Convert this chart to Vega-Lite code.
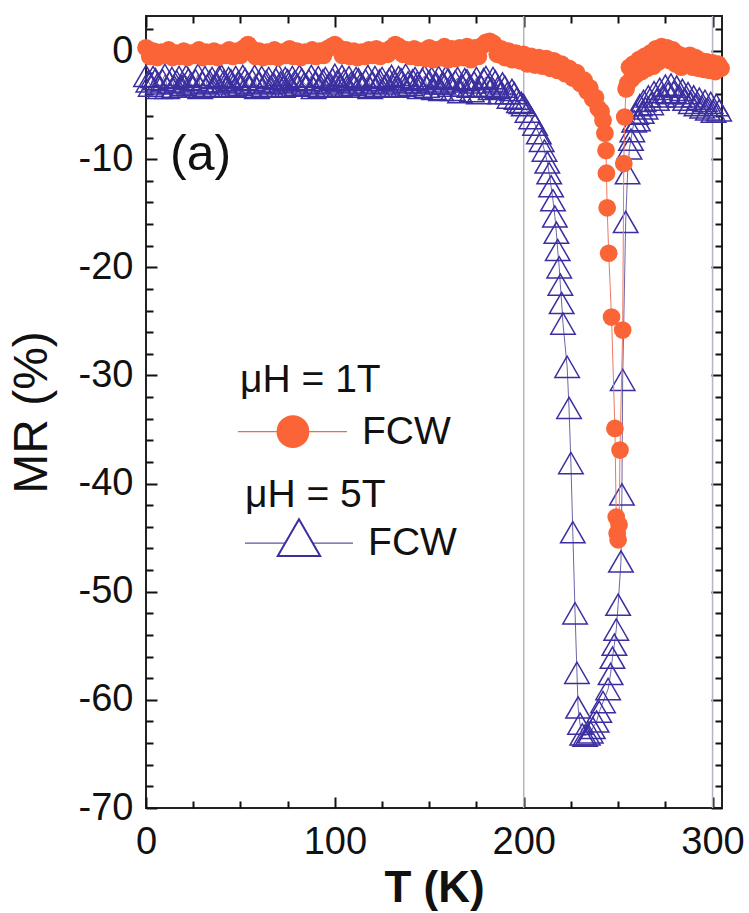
{
"$schema": "https://vega.github.io/schema/vega-lite/v6.json",
"width": 576, "height": 792,
"autosize": "none",
"padding": {"left": 146, "top": 16, "right": 27, "bottom": 105},
"background": "white",
"config": {
  "font": "Liberation Sans",
  "view": {"stroke": "#222", "strokeWidth": 2},
  "axis": {"grid": false, "domain": false, "labelFlush": false, "labelOverlap": false, "tickColor": "#111", "tickWidth": 2, "labelColor": "#111", "titleColor": "#111", "labelFont": "Liberation Sans", "titleFont": "Liberation Sans"}
},
"datasets": {
  "red": [
{"T":0,"MR":0.3},{"T":2,"MR":-0.5},{"T":4,"MR":0.0},{"T":6,"MR":-0.6},{"T":8,"MR":-0.1},{"T":10,"MR":-0.4},{"T":12,"MR":0.1},{"T":14,"MR":-0.6},{"T":16,"MR":-0.2},{"T":18,"MR":-0.5},{"T":20,"MR":0.0},{"T":22,"MR":-0.6},{"T":24,"MR":-0.2},{"T":26,"MR":-0.4},{"T":28,"MR":0.1},{"T":30,"MR":-0.6},{"T":32,"MR":-0.1},{"T":34,"MR":-0.5},{"T":36,"MR":0.0},{"T":38,"MR":-0.6},{"T":40,"MR":-0.2},{"T":42,"MR":-0.4},{"T":44,"MR":0.1},{"T":46,"MR":-0.5},{"T":48,"MR":0.0},{"T":50,"MR":-0.4},{"T":52,"MR":0.3},{"T":54,"MR":0.6},{"T":56,"MR":0.2},{"T":58,"MR":-0.5},{"T":60,"MR":0.0},{"T":62,"MR":-0.6},{"T":64,"MR":-0.1},{"T":66,"MR":-0.5},{"T":68,"MR":0.1},{"T":70,"MR":-0.6},{"T":72,"MR":-0.1},{"T":74,"MR":-0.4},{"T":76,"MR":0.2},{"T":78,"MR":-0.5},{"T":80,"MR":0.0},{"T":82,"MR":-0.6},{"T":84,"MR":-0.1},{"T":86,"MR":-0.4},{"T":88,"MR":0.1},{"T":90,"MR":-0.5},{"T":92,"MR":0.0},{"T":94,"MR":-0.4},{"T":96,"MR":0.2},{"T":98,"MR":0.4},{"T":100,"MR":0.6},{"T":102,"MR":0.3},{"T":104,"MR":-0.4},{"T":106,"MR":0.1},{"T":108,"MR":-0.5},{"T":110,"MR":0.0},{"T":112,"MR":-0.6},{"T":114,"MR":-0.1},{"T":116,"MR":-0.5},{"T":118,"MR":0.1},{"T":120,"MR":-0.4},{"T":122,"MR":0.2},{"T":124,"MR":-0.5},{"T":126,"MR":0.0},{"T":128,"MR":-0.3},{"T":130,"MR":0.3},{"T":132,"MR":0.6},{"T":134,"MR":0.4},{"T":136,"MR":-0.3},{"T":138,"MR":0.1},{"T":140,"MR":-0.5},{"T":142,"MR":0.2},{"T":144,"MR":-0.6},{"T":146,"MR":0.0},{"T":148,"MR":-0.7},{"T":150,"MR":0.3},{"T":152,"MR":-0.8},{"T":154,"MR":0.1},{"T":156,"MR":-0.6},{"T":158,"MR":0.4},{"T":160,"MR":-0.8},{"T":162,"MR":0.2},{"T":164,"MR":-0.7},{"T":166,"MR":0.3},{"T":168,"MR":-0.6},{"T":170,"MR":0.4},{"T":172,"MR":-0.8},{"T":174,"MR":0.3},{"T":176,"MR":-0.5},{"T":178,"MR":0.5},{"T":180,"MR":0.8},{"T":182,"MR":0.9},{"T":184,"MR":0.7},{"T":186,"MR":-0.3},{"T":188,"MR":0.2},{"T":190,"MR":-0.6},{"T":192,"MR":0.0},{"T":194,"MR":-0.8},{"T":196,"MR":-0.2},{"T":198,"MR":-0.9},{"T":200,"MR":-0.3},{"T":202,"MR":-1.2},{"T":204,"MR":-0.5},{"T":206,"MR":-1.3},{"T":208,"MR":-0.6},{"T":210,"MR":-1.4},{"T":212,"MR":-0.7},{"T":214,"MR":-1.6},{"T":216,"MR":-0.9},{"T":218,"MR":-1.8},{"T":220,"MR":-1.2},{"T":222,"MR":-2.1},{"T":224,"MR":-1.6},{"T":226,"MR":-2.5},{"T":228,"MR":-2.0},{"T":230,"MR":-3.0},{"T":232,"MR":-2.7},{"T":233.5,"MR":-3.7},{"T":235,"MR":-3.4},{"T":236.5,"MR":-4.4},{"T":238,"MR":-4.3},{"T":239.5,"MR":-5.3},{"T":241,"MR":-5.6},{"T":242,"MR":-6.4},{"T":243,"MR":-7.6},{"T":243.6,"MR":-9.2},{"T":243.8,"MR":-11.3},{"T":244.2,"MR":-14.5},{"T":245,"MR":-18.7},{"T":246.5,"MR":-24.6},{"T":248.3,"MR":-34.9},{"T":249,"MR":-43.1},{"T":249.5,"MR":-44.6},{"T":250,"MR":-45.2},{"T":250.5,"MR":-43.8},{"T":251,"MR":-36.9},{"T":252.4,"MR":-25.8},{"T":253,"MR":-10.4},{"T":253.5,"MR":-6.1},{"T":254.2,"MR":-3.5},{"T":255,"MR":-3.0},{"T":256,"MR":-1.5},{"T":257,"MR":-2.6},{"T":258,"MR":-1.2},{"T":259.5,"MR":-2.2},{"T":261,"MR":-0.8},{"T":262.5,"MR":-1.9},{"T":264,"MR":-0.5},{"T":265.5,"MR":-1.6},{"T":267,"MR":-0.2},{"T":268.5,"MR":-1.4},{"T":270,"MR":0.2},{"T":271.5,"MR":-1.0},{"T":273,"MR":0.4},{"T":274.5,"MR":-0.6},{"T":276,"MR":0.3},{"T":277.5,"MR":-0.9},{"T":279,"MR":0.1},{"T":280.5,"MR":-1.2},{"T":282,"MR":-0.3},{"T":283.5,"MR":-1.5},{"T":285,"MR":-0.5},{"T":286.5,"MR":-1.3},{"T":288,"MR":-0.4},{"T":289.5,"MR":-1.5},{"T":291,"MR":-0.6},{"T":292.5,"MR":-1.6},{"T":294,"MR":-0.9},{"T":295.5,"MR":-1.7},{"T":297,"MR":-1.0},{"T":298.5,"MR":-1.8},{"T":300,"MR":-1.1},{"T":301.5,"MR":-1.9},{"T":303,"MR":-1.2},{"T":304.5,"MR":-1.6}
  ],
  "blue": [
{"T":0,"MR":-2.3},{"T":2.5,"MR":-3.2},{"T":5,"MR":-2.6},{"T":7.5,"MR":-3.4},{"T":10,"MR":-2.2},{"T":12.5,"MR":-2.9},{"T":15,"MR":-3.3},{"T":17.5,"MR":-2.4},{"T":20,"MR":-3.1},{"T":22.5,"MR":-2.6},{"T":25,"MR":-3.3},{"T":27.5,"MR":-2.2},{"T":30,"MR":-2.9},{"T":32.5,"MR":-3.2},{"T":35,"MR":-2.5},{"T":37.5,"MR":-3.0},{"T":40,"MR":-2.3},{"T":42.5,"MR":-3.3},{"T":45,"MR":-2.7},{"T":47.5,"MR":-2.4},{"T":50,"MR":-3.1},{"T":52.5,"MR":-2.6},{"T":55,"MR":-3.3},{"T":57.5,"MR":-2.3},{"T":60,"MR":-2.9},{"T":62.5,"MR":-3.2},{"T":65,"MR":-2.5},{"T":67.5,"MR":-3.0},{"T":70,"MR":-2.2},{"T":72.5,"MR":-3.3},{"T":75,"MR":-2.7},{"T":77.5,"MR":-2.4},{"T":80,"MR":-3.1},{"T":82.5,"MR":-2.6},{"T":85,"MR":-3.2},{"T":87.5,"MR":-2.3},{"T":90,"MR":-2.9},{"T":92.5,"MR":-3.3},{"T":95,"MR":-2.5},{"T":97.5,"MR":-3.0},{"T":100,"MR":-2.2},{"T":102.5,"MR":-3.2},{"T":105,"MR":-2.7},{"T":107.5,"MR":-2.4},{"T":110,"MR":-3.1},{"T":112.5,"MR":-2.6},{"T":115,"MR":-3.3},{"T":117.5,"MR":-2.3},{"T":120,"MR":-2.9},{"T":122.5,"MR":-3.2},{"T":125,"MR":-2.5},{"T":127.5,"MR":-3.0},{"T":130,"MR":-2.3},{"T":132.5,"MR":-3.3},{"T":135,"MR":-2.6},{"T":137.5,"MR":-2.2},{"T":140,"MR":-3.1},{"T":142.5,"MR":-2.5},{"T":145,"MR":-3.4},{"T":147.5,"MR":-2.3},{"T":150,"MR":-2.8},{"T":152.5,"MR":-3.5},{"T":155,"MR":-2.4},{"T":157.5,"MR":-3.0},{"T":160,"MR":-2.6},{"T":162.5,"MR":-3.6},{"T":165,"MR":-2.5},{"T":167.5,"MR":-3.2},{"T":170,"MR":-2.7},{"T":172.5,"MR":-3.7},{"T":175,"MR":-2.5},{"T":177.5,"MR":-3.3},{"T":180,"MR":-2.4},{"T":182.5,"MR":-3.5},{"T":185,"MR":-2.8},{"T":187.5,"MR":-3.9},{"T":190,"MR":-3.3},{"T":192.5,"MR":-4.3},{"T":195,"MR":-3.9},{"T":197.5,"MR":-4.7},{"T":200,"MR":-5.0},{"T":202,"MR":-5.6},{"T":204,"MR":-6.2},{"T":206,"MR":-6.8},{"T":208,"MR":-7.6},{"T":209.5,"MR":-8.3},{"T":211,"MR":-9.2},{"T":212.5,"MR":-10.3},{"T":213.5,"MR":-11.3},{"T":214.5,"MR":-12.5},{"T":215.5,"MR":-13.8},{"T":216.5,"MR":-15.3},{"T":217.3,"MR":-16.8},{"T":218,"MR":-18.4},{"T":218.8,"MR":-20.0},{"T":219.4,"MR":-21.6},{"T":220.1,"MR":-23.3},{"T":220.8,"MR":-25.2},{"T":223,"MR":-29.2},{"T":224,"MR":-33.0},{"T":225,"MR":-38.1},{"T":226,"MR":-44.5},{"T":227.2,"MR":-52.0},{"T":228.2,"MR":-57.5},{"T":228.8,"MR":-60.7},{"T":229.8,"MR":-62.2},{"T":231,"MR":-63.2},{"T":232.5,"MR":-63.3},{"T":234,"MR":-63.2},{"T":235.5,"MR":-63.0},{"T":236.6,"MR":-62.6},{"T":238.6,"MR":-62.0},{"T":240,"MR":-61.1},{"T":242,"MR":-60.2},{"T":244.7,"MR":-59.0},{"T":246,"MR":-57.6},{"T":247,"MR":-56.1},{"T":248,"MR":-54.9},{"T":249,"MR":-53.5},{"T":250,"MR":-51.2},{"T":251.5,"MR":-47.2},{"T":252,"MR":-41.0},{"T":252.4,"MR":-30.4},{"T":254,"MR":-15.8},{"T":255,"MR":-11.3},{"T":256,"MR":-9.0},{"T":256.8,"MR":-8.2},{"T":257.5,"MR":-7.4},{"T":258.5,"MR":-6.5},{"T":259.5,"MR":-5.8},{"T":260.5,"MR":-6.4},{"T":261.5,"MR":-5.0},{"T":262.5,"MR":-5.7},{"T":263.5,"MR":-4.6},{"T":264.5,"MR":-5.3},{"T":266,"MR":-4.2},{"T":267.5,"MR":-4.9},{"T":269,"MR":-3.8},{"T":270.5,"MR":-4.5},{"T":272,"MR":-3.5},{"T":273.5,"MR":-4.2},{"T":275,"MR":-3.2},{"T":276.5,"MR":-3.9},{"T":278,"MR":-3.1},{"T":279.5,"MR":-3.8},{"T":281,"MR":-3.3},{"T":282.5,"MR":-4.2},{"T":284,"MR":-3.6},{"T":285.5,"MR":-4.5},{"T":287,"MR":-3.9},{"T":288.5,"MR":-4.8},{"T":290,"MR":-4.2},{"T":291.5,"MR":-5.0},{"T":293,"MR":-4.4},{"T":294.5,"MR":-5.2},{"T":296,"MR":-4.6},{"T":297.5,"MR":-5.4},{"T":299,"MR":-4.8},{"T":300.5,"MR":-5.6},{"T":302,"MR":-5.0},{"T":303.5,"MR":-5.5},
{"T":1.25,"MR":-2.8},{"T":3.75,"MR":-2.4},{"T":6.25,"MR":-3.0},{"T":8.75,"MR":-2.7},{"T":11.25,"MR":-3.4},{"T":13.75,"MR":-2.5},{"T":16.25,"MR":-2.8},{"T":18.75,"MR":-3.3},{"T":21.25,"MR":-2.3},{"T":23.75,"MR":-3.0},{"T":26.25,"MR":-2.7},{"T":28.75,"MR":-3.4},{"T":31.25,"MR":-2.4},{"T":33.75,"MR":-2.8},{"T":36.25,"MR":-3.3},{"T":38.75,"MR":-2.4},{"T":41.25,"MR":-2.8},{"T":43.75,"MR":-2.5},{"T":46.25,"MR":-3.2},{"T":48.75,"MR":-2.9},{"T":51.25,"MR":-2.3},{"T":53.75,"MR":-3.0},{"T":56.25,"MR":-2.7},{"T":58.75,"MR":-3.4},{"T":61.25,"MR":-2.4},{"T":63.75,"MR":-2.8},{"T":66.25,"MR":-3.3},{"T":68.75,"MR":-2.6},{"T":71.25,"MR":-2.9},{"T":73.75,"MR":-2.5},{"T":76.25,"MR":-3.2},{"T":78.75,"MR":-2.8},{"T":81.25,"MR":-2.3},{"T":83.75,"MR":-3.0},{"T":86.25,"MR":-2.7},{"T":88.75,"MR":-3.4},{"T":91.25,"MR":-2.4},{"T":93.75,"MR":-2.7},{"T":96.25,"MR":-3.2},{"T":98.75,"MR":-2.6},{"T":101.25,"MR":-2.8},{"T":103.75,"MR":-2.3},{"T":106.25,"MR":-3.3},{"T":108.75,"MR":-2.9},{"T":111.25,"MR":-2.5},{"T":113.75,"MR":-3.0},{"T":116.25,"MR":-2.7},{"T":118.75,"MR":-3.4},{"T":121.25,"MR":-2.4},{"T":123.75,"MR":-2.7},{"T":126.25,"MR":-3.3},{"T":128.75,"MR":-2.6},{"T":131.25,"MR":-2.8},{"T":133.75,"MR":-2.4},{"T":136.25,"MR":-3.2},{"T":138.75,"MR":-2.9},{"T":141.25,"MR":-2.7},{"T":143.75,"MR":-2.9},{"T":146.25,"MR":-2.6},{"T":148.75,"MR":-3.3},{"T":151.25,"MR":-2.5},{"T":153.75,"MR":-3.0},{"T":156.25,"MR":-3.6},{"T":158.75,"MR":-2.4},{"T":161.25,"MR":-3.2},{"T":163.75,"MR":-2.8},{"T":166.25,"MR":-3.8},{"T":168.75,"MR":-2.6},{"T":171.25,"MR":-3.3},{"T":173.75,"MR":-2.9},{"T":176.25,"MR":-3.9},{"T":178.75,"MR":-2.6},{"T":181.25,"MR":-3.2},{"T":183.75,"MR":-2.5},{"T":186.25,"MR":-3.4},{"T":188.75,"MR":-3.0},{"T":191.25,"MR":-3.9},{"T":193.75,"MR":-3.6},{"T":196.25,"MR":-4.4},{"T":198.75,"MR":-4.8}
  ],
  "vlines": [{"T": 200}, {"T": 300}],
  "legline": [{"T": 48.7, "T2": 106.4, "MR": -35.2, "s": "r"}, {"T": 52.4, "T2": 109.6, "MR": -45.5, "s": "b"}],
  "legtext": [{"T": 49.8, "MR": -30.4, "label": "μH = 1T"}, {"T": 114.4, "MR": -35.2, "label": "FCW"}, {"T": 52.4, "MR": -41.1, "label": "μH = 5T"}, {"T": 117.6, "MR": -45.5, "label": "FCW"}]
},
"resolve": {"axis": {"x": "independent", "y": "independent"}},
"layer": [
  {
    "data": {"name": "vlines"},
    "mark": {"type": "rule", "color": "#b4b4c4", "strokeWidth": 1.5},
    "encoding": {"x": {"field": "T", "type": "quantitative", "scale": {"domain": [0, 305], "nice": false, "zero": false}, "axis": null}}
  },
  {
    "data": {"name": "blue"},
    "mark": {"type": "line", "color": "#6a66aa", "strokeWidth": 1},
    "encoding": {
      "x": {"field": "T", "type": "quantitative", "scale": {"domain": [0, 305], "nice": false, "zero": false},
        "axis": {"orient": "bottom", "values": [0, 100, 200, 300], "labelExpr": "datum.value", "tickSize": -11, "labelPadding": 26, "labelFontSize": 38, "title": "T (K)", "titleFontSize": 44, "titleFontWeight": "bold", "titlePadding": 5}},
      "y": {"field": "MR", "type": "quantitative", "scale": {"domain": [-70, 3.24], "nice": false, "zero": false},
        "axis": {"orient": "left", "values": [-70, -60, -50, -40, -30, -20, -10, 0], "labelExpr": "datum.value", "tickSize": -11, "labelPadding": 24, "labelFontSize": 38, "title": "MR (%)", "titleFontSize": 48, "titleFontWeight": "normal", "titlePadding": 22}}
    }
  },
  {
    "data": {"name": "blue"},
    "mark": {"type": "point", "shape": "triangle-up", "size": 600, "filled": false, "stroke": "#3b2fa0", "strokeWidth": 1.5, "opacity": 1},
    "encoding": {
      "x": {"field": "T", "type": "quantitative", "scale": {"domain": [0, 305], "nice": false, "zero": false},
        "axis": {"orient": "bottom", "values": [25, 50, 75, 125, 150, 175, 225, 250, 275], "tickSize": -7, "labels": false, "title": null}},
      "y": {"field": "MR", "type": "quantitative", "scale": {"domain": [-70, 3.24], "nice": false, "zero": false},
        "axis": {"orient": "left", "values": [-68, -66, -64, -62, -58, -56, -54, -52, -48, -46, -44, -42, -38, -36, -34, -32, -28, -26, -24, -22, -18, -16, -14, -12, -8, -6, -4, -2, 2], "tickSize": -7, "labels": false, "title": null}}
    }
  },
  {
    "data": {"name": "red"},
    "mark": {"type": "line", "color": "#ec7a62", "strokeWidth": 1},
    "encoding": {
      "x": {"field": "T", "type": "quantitative", "scale": {"domain": [0, 305], "nice": false, "zero": false},
        "axis": {"orient": "top", "values": [0, 100, 200, 300], "tickSize": -11, "labels": false, "title": null}},
      "y": {"field": "MR", "type": "quantitative", "scale": {"domain": [-70, 3.24], "nice": false, "zero": false},
        "axis": {"orient": "right", "values": [-70, -60, -50, -40, -30, -20, -10, 0], "tickSize": -11, "labels": false, "title": null}}
    }
  },
  {
    "data": {"name": "red"},
    "mark": {"type": "point", "shape": "circle", "size": 314, "filled": true, "color": "#fa6436", "opacity": 1},
    "encoding": {
      "x": {"field": "T", "type": "quantitative", "scale": {"domain": [0, 305], "nice": false, "zero": false},
        "axis": {"orient": "top", "values": [25, 50, 75, 125, 150, 175, 225, 250, 275], "tickSize": -7, "labels": false, "title": null}},
      "y": {"field": "MR", "type": "quantitative", "scale": {"domain": [-70, 3.24], "nice": false, "zero": false},
        "axis": {"orient": "right", "values": [-68, -66, -64, -62, -58, -56, -54, -52, -48, -46, -44, -42, -38, -36, -34, -32, -28, -26, -24, -22, -18, -16, -14, -12, -8, -6, -4, -2, 2], "tickSize": -7, "labels": false, "title": null}}
    }
  },
  {
    "data": {"name": "legline"},
    "mark": {"type": "rule", "strokeWidth": 1.2},
    "encoding": {
      "x": {"field": "T", "type": "quantitative", "scale": {"domain": [0, 305], "nice": false, "zero": false}, "axis": null},
      "x2": {"field": "T2"},
      "y": {"field": "MR", "type": "quantitative", "scale": {"domain": [-70, 3.24], "nice": false, "zero": false}, "axis": null},
      "color": {"field": "s", "type": "nominal", "scale": {"domain": ["r", "b"], "range": ["#f06a50", "#5a55a8"]}, "legend": null}
    }
  },
  {
    "data": {"values": [{"T": 77.8, "MR": -35.2}]},
    "mark": {"type": "point", "shape": "circle", "size": 1075, "filled": true, "color": "#fa6436", "opacity": 1},
    "encoding": {
      "x": {"field": "T", "type": "quantitative", "scale": {"domain": [0, 305], "nice": false, "zero": false}, "axis": null},
      "y": {"field": "MR", "type": "quantitative", "scale": {"domain": [-70, 3.24], "nice": false, "zero": false}, "axis": null}
    }
  },
  {
    "data": {"values": [{"T": 81.0, "MR": -45.0}]},
    "mark": {"type": "point", "shape": "triangle-up", "size": 1800, "filled": true, "fill": "white", "stroke": "#3b2fa0", "strokeWidth": 2, "opacity": 1},
    "encoding": {
      "x": {"field": "T", "type": "quantitative", "scale": {"domain": [0, 305], "nice": false, "zero": false}, "axis": null},
      "y": {"field": "MR", "type": "quantitative", "scale": {"domain": [-70, 3.24], "nice": false, "zero": false}, "axis": null}
    }
  },
  {
    "data": {"name": "legtext"},
    "mark": {"type": "text", "align": "left", "baseline": "middle", "fontSize": 39, "color": "#111", "font": "Liberation Sans"},
    "encoding": {
      "x": {"field": "T", "type": "quantitative", "scale": {"domain": [0, 305], "nice": false, "zero": false}, "axis": null},
      "y": {"field": "MR", "type": "quantitative", "scale": {"domain": [-70, 3.24], "nice": false, "zero": false}, "axis": null},
      "text": {"field": "label"}
    }
  },
  {
    "data": {"values": [{"T": 12.7, "MR": -9.6, "label": "(a)"}]},
    "mark": {"type": "text", "align": "left", "baseline": "middle", "fontSize": 50, "color": "#111", "font": "Liberation Sans"},
    "encoding": {
      "x": {"field": "T", "type": "quantitative", "scale": {"domain": [0, 305], "nice": false, "zero": false}, "axis": null},
      "y": {"field": "MR", "type": "quantitative", "scale": {"domain": [-70, 3.24], "nice": false, "zero": false}, "axis": null},
      "text": {"field": "label"}
    }
  }
]
}
